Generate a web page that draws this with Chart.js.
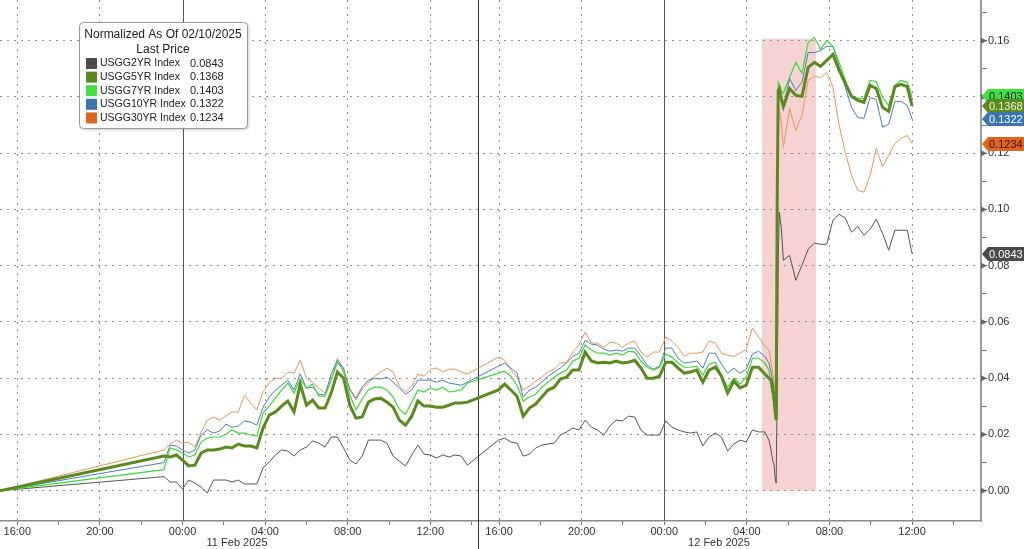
<!DOCTYPE html>
<html>
<head>
<meta charset="utf-8">
<title>US Treasury yields, normalized</title>
<script src="https://cdn.jsdelivr.net/npm/chart.js"></script>
<style>
  html, body { margin: 0; padding: 0; background: #fff; }
  #wrap { width: 1024px; height: 549px; position: relative; }
</style>
</head>
<body>
<div id="wrap"><canvas id="chart"></canvas></div>
<script>
// ---- data ----
// x = hours on the chart axis, 0 = 11 Feb 00:00; the ~40 min session break after 14:19 is squeezed out
const hours = [
  -8.84,
  -0.9, -0.6, -0.3, 0, 0.3, 0.6, 0.9, 1.2, 1.5, 1.8,
  2.1, 2.4, 2.7, 3.0, 3.3, 3.6, 3.9, 4.2, 4.5, 4.8,
  5.1, 5.4, 5.7, 6.0, 6.3, 6.6, 6.9, 7.2, 7.5, 7.8,
  8.1, 8.4, 8.7, 9.0, 9.3, 9.6, 9.9, 10.2, 10.5, 10.8,
  11.1, 11.4, 11.7, 12.0, 12.3, 12.6, 12.9, 13.2, 13.5, 13.8,
  14.1, 14.4, 14.7, 15.0,
  15.3, 15.6, 15.9, 16.2, 16.5, 16.8, 17.1, 17.4, 17.7, 18.0,
  18.3, 18.6, 18.9, 19.2, 19.5, 19.8, 20.1, 20.4, 20.7, 21.0,
  21.3, 21.6, 21.9, 22.2, 22.5, 22.8, 23.1, 23.4, 23.7, 24.0,
  24.3, 24.6, 24.9, 25.2, 25.5, 25.8, 26.1, 26.4, 26.7, 27.0,
  27.3, 27.6, 27.9, 28.2,
  28.4, 28.5, 28.6, 28.65, 28.7, 28.75, 28.8, 28.85, 28.9, 29.0,
  29.1, 29.4, 29.7, 30.0, 30.3, 30.6, 30.9, 31.2, 31.5, 31.8,
  32.1, 32.4, 32.7, 33.0, 33.3, 33.6, 33.9, 34.2, 34.5, 34.8,
  35.1, 35.33
];

const usgg2yr = [
  0,
  0.0050, 0.0031, 0.0031, 0.0006, 0.0038, 0.0027, 0.0013, -0.0008, 0.0038, 0.0038,
  0.0038, 0.0031, 0.0038, 0.0024, 0.0024, 0.0024, 0.0081, 0.0102, 0.0127, 0.0145,
  0.0141, 0.0123, 0.0145, 0.0155, 0.0177, 0.0169, 0.0155, 0.0191, 0.0191, 0.0152,
  0.0109, 0.0095, 0.0123, 0.0180, 0.0180, 0.0180, 0.0169, 0.0123, 0.0105, 0.0088,
  0.0127, 0.0162, 0.0130, 0.0127, 0.0116, 0.0127, 0.0120, 0.0127, 0.0123, 0.0091,
  null, null, null, null,
  0.0180, 0.0187, 0.0173, 0.0169, 0.0123, 0.0130, 0.0152, 0.0162, 0.0166, 0.0169,
  0.0198, 0.0209, 0.0223, 0.0216, 0.0251, 0.0226, 0.0216, 0.0198, 0.0230, 0.0251,
  0.0248, 0.0265, 0.0262, 0.0216, 0.0198, 0.0198, 0.0198, 0.0248, 0.0226, 0.0216,
  0.0209, 0.0205, 0.0209, 0.0159, 0.0191, 0.0205, 0.0191, 0.0141, 0.0166, 0.0180,
  0.0173, 0.0216, 0.0209, 0.0209,
  0.0180, 0.0145, 0.0102, 0.0091, 0.0045, 0.0027, 0.0368, 0.0819, 0.0990, 0.0933,
  0.0819, 0.0837, 0.0748, 0.0802, 0.0859, 0.0880, 0.0876, 0.0876, 0.0962, 0.0983,
  0.0969, 0.0919, 0.0940, 0.0908, 0.0930, 0.0965, 0.0915, 0.0855, 0.0926, 0.0926,
  0.0926, 0.0843
];

const usgg5yr = [
  0,
  0.0123, 0.0120, 0.0127, 0.0109, 0.0088, 0.0091, 0.0134, 0.0145, 0.0145, 0.0148,
  0.0155, 0.0152, 0.0166, 0.0159, 0.0159, 0.0152, 0.0223, 0.0269, 0.0280, 0.0301,
  0.0319, 0.0280, 0.0379, 0.0304, 0.0322, 0.0294, 0.0294, 0.0347, 0.0422, 0.0400,
  0.0304, 0.0258, 0.0262, 0.0315, 0.0326, 0.0329, 0.0315, 0.0297, 0.0251, 0.0233,
  0.0265, 0.0319, 0.0301, 0.0301, 0.0297, 0.0297, 0.0304, 0.0312, 0.0312, 0.0315,
  null, null, null, null,
  0.0358, 0.0379, 0.0358, 0.0336, 0.0265, 0.0294, 0.0308, 0.0333, 0.0358, 0.0368,
  0.0397, 0.0404, 0.0429, 0.0429, 0.0493, 0.0461, 0.0454, 0.0457, 0.0454, 0.0461,
  0.0454, 0.0457, 0.0464, 0.0436, 0.0400, 0.0400, 0.0407, 0.0457, 0.0457, 0.0436,
  0.0418, 0.0422, 0.0429, 0.0386, 0.0429, 0.0439, 0.0407, 0.0347, 0.0390, 0.0365,
  0.0375, 0.0439, 0.0439, 0.0415,
  0.0400, 0.0393, 0.0351, 0.0322, 0.0280, 0.0251, 0.1033, 0.1423, 0.1430, 0.1395,
  0.1366, 0.1430, 0.1406, 0.1402, 0.1505, 0.1523, 0.1509, 0.1530, 0.1551, 0.1494,
  0.1448, 0.1402, 0.1388, 0.1381, 0.1441, 0.1430, 0.1363, 0.1349, 0.1437, 0.1445,
  0.1437, 0.1368
];

const usgg7yr = [
  0,
  0.0075, 0.0152, 0.0145, 0.0134, 0.0120, 0.0127, 0.0173, 0.0187, 0.0191, 0.0191,
  0.0201, 0.0216, 0.0205, 0.0205, 0.0198, 0.0194, 0.0276, 0.0301, 0.0329, 0.0358,
  0.0383, 0.0347, 0.0397, 0.0365, 0.0379, 0.0336, 0.0336, 0.0393, 0.0457, 0.0429,
  0.0340, 0.0287, 0.0326, 0.0358, 0.0368, 0.0368, 0.0358, 0.0333, 0.0290, 0.0272,
  0.0315, 0.0358, 0.0351, 0.0365, 0.0358, 0.0368, 0.0351, 0.0354, 0.0358, 0.0383,
  null, null, null, null,
  0.0418, 0.0425, 0.0407, 0.0375, 0.0319, 0.0333, 0.0343, 0.0368, 0.0386, 0.0404,
  0.0418, 0.0429, 0.0461, 0.0471, 0.0518, 0.0500, 0.0489, 0.0489, 0.0482, 0.0489,
  0.0482, 0.0496, 0.0493, 0.0461, 0.0439, 0.0429, 0.0439, 0.0486, 0.0475, 0.0454,
  0.0439, 0.0439, 0.0443, 0.0411, 0.0450, 0.0457, 0.0411, 0.0368, 0.0400, 0.0379,
  0.0404, 0.0471, 0.0471, 0.0454,
  0.0429, 0.0375, 0.0329, 0.0304, 0.0276, 0.0258, 0.1033, 0.1452, 0.1445, 0.1423,
  0.1413, 0.1469, 0.1523, 0.1484, 0.1594, 0.1612, 0.1569, 0.1601, 0.1580, 0.1523,
  0.1459, 0.1402, 0.1395, 0.1395, 0.1459, 0.1455, 0.1398, 0.1370, 0.1441, 0.1459,
  0.1452, 0.1403
];

const usgg10yr = [
  0,
  0.0100, 0.0162, 0.0159, 0.0145, 0.0134, 0.0145, 0.0198, 0.0216, 0.0205, 0.0212,
  0.0237, 0.0226, 0.0230, 0.0248, 0.0244, 0.0233, 0.0297, 0.0333, 0.0358, 0.0375,
  0.0393, 0.0358, 0.0415, 0.0365, 0.0368, 0.0343, 0.0340, 0.0415, 0.0464, 0.0436,
  0.0358, 0.0329, 0.0368, 0.0393, 0.0400, 0.0397, 0.0404, 0.0386, 0.0365, 0.0343,
  0.0358, 0.0393, 0.0393, 0.0393, 0.0386, 0.0393, 0.0383, 0.0379, 0.0375, 0.0386,
  null, null, null, null,
  0.0443, 0.0454, 0.0436, 0.0418, 0.0333, 0.0358, 0.0368, 0.0386, 0.0407, 0.0422,
  0.0436, 0.0454, 0.0478, 0.0489, 0.0535, 0.0521, 0.0518, 0.0503, 0.0496, 0.0500,
  0.0496, 0.0507, 0.0507, 0.0478, 0.0446, 0.0432, 0.0443, 0.0507, 0.0507, 0.0471,
  0.0454, 0.0457, 0.0461, 0.0436, 0.0489, 0.0489, 0.0450, 0.0418, 0.0436, 0.0418,
  0.0432, 0.0486, 0.0496, 0.0478,
  0.0454, 0.0422, 0.0383, 0.0347, 0.0297, 0.0269, 0.1033, 0.1388, 0.1416, 0.1388,
  0.1363, 0.1466, 0.1423, 0.1452, 0.1558, 0.1558, 0.1565, 0.1580, 0.1580, 0.1509,
  0.1434, 0.1363, 0.1327, 0.1324, 0.1398, 0.1391, 0.1292, 0.1303, 0.1384, 0.1384,
  0.1370, 0.1322
];

const usgg30yr = [
  0,
  0.0145, 0.0166, 0.0180, 0.0169, 0.0173, 0.0155, 0.0209, 0.0251, 0.0262, 0.0251,
  0.0265, 0.0280, 0.0280, 0.0340, 0.0312, 0.0287, 0.0351, 0.0383, 0.0400, 0.0400,
  0.0422, 0.0418, 0.0464, 0.0400, 0.0386, 0.0365, 0.0347, 0.0393, 0.0471, 0.0418,
  0.0365, 0.0322, 0.0361, 0.0383, 0.0407, 0.0422, 0.0436, 0.0422, 0.0372, 0.0351,
  0.0372, 0.0415, 0.0407, 0.0432, 0.0436, 0.0422, 0.0432, 0.0432, 0.0422, 0.0415,
  null, null, null, null,
  0.0475, 0.0464, 0.0429, 0.0404, 0.0358, 0.0372, 0.0390, 0.0404, 0.0422, 0.0432,
  0.0454, 0.0457, 0.0493, 0.0518, 0.0564, 0.0525, 0.0525, 0.0510, 0.0528, 0.0525,
  0.0510, 0.0525, 0.0532, 0.0493, 0.0475, 0.0493, 0.0493, 0.0546, 0.0532, 0.0510,
  0.0478, 0.0489, 0.0489, 0.0493, 0.0532, 0.0525, 0.0489, 0.0482, 0.0478, 0.0489,
  0.0503, 0.0578, 0.0546, 0.0514,
  0.0500, 0.0457, 0.0411, 0.0383, 0.0347, 0.0304, 0.1033, 0.1377, 0.1352, 0.1303,
  0.1221, 0.1359, 0.1281, 0.1334, 0.1459, 0.1473, 0.1469, 0.1487, 0.1434, 0.1299,
  0.1203, 0.1121, 0.1068, 0.1061, 0.1121, 0.1217, 0.1153, 0.1192, 0.1235, 0.1253,
  0.1263, 0.1234
];

const seriesNames = ["USGG2YR Index", "USGG5YR Index", "USGG7YR Index", "USGG10YR Index", "USGG30YR Index"];
const lastPrices  = [0.0843, 0.1368, 0.1403, 0.1322, 0.1234];

// axis ticks / labels
const timeTicks   = [-8, -4, 0, 4, 8, 12, 15.33, 19.33, 23.33, 27.33, 31.33, 35.33];
const timeLabels  = ["16:00", "20:00", "00:00", "04:00", "08:00", "12:00", "16:00", "20:00", "00:00", "04:00", "08:00", "12:00"];
const minorTicks  = [-6, -2, 2, 6, 10, 14, 17.33, 21.33, 25.33, 29.33, 33.33, 37.33];
const midnights   = [0, 23.33];
const sessionBreak = 14.32;
const dateLabels  = ["11 Feb 2025", "12 Feb 2025"];
const datePos     = [2.64, 25.98];
const yTicks      = [0, 0.01, 0.02, 0.03, 0.04, 0.05, 0.06, 0.07, 0.08, 0.09, 0.10, 0.11, 0.12, 0.13, 0.14, 0.15, 0.16, 0.17];
const shadeRange  = [28.06, 30.68];   // highlighted window (hours)
const shadeTop    = 0.1607;

// ---- styles ----
const FONT = '"Liberation Sans", Arial, sans-serif';
const lineColors  = ["#555555", "#5b8a1c", "#39dc39", "#4a80b8", "#e8955a"];
const lineWidths  = [1, 3, 1.2, 1, 1];
const drawOrder   = [4, 0, 1, 2, 3];
const keyColors   = ["#4b4b4b", "#5b8a1c", "#3fe23f", "#3a75b0", "#e0661e"];
const tagText     = ["#ffffff", "#f4f4e6", "#1a1a1a", "#ffffff", "#4a1000"];
const tagOrder    = [2, 1, 3, 4, 0];

const allSeries = [usgg2yr, usgg5yr, usgg7yr, usgg10yr, usgg30yr];
const near = (a, b) => Math.abs(a - b) < 0.01;
const isMajorY = v => Math.round(v * 100) % 2 === 0;

// ---- decorations the library has no option for ----
const decor = {
  id: "decor",
  beforeDraw(chart) {
    const { ctx, scales: { x, y } } = chart;
    const x0 = x.getPixelForValue(shadeRange[0]);
    const x1 = x.getPixelForValue(shadeRange[1]);
    const y0 = y.getPixelForValue(shadeTop);
    const y1 = y.getPixelForValue(0);
    ctx.save();
    ctx.fillStyle = "#f6d2d2";
    ctx.fillRect(x0, y0, x1 - x0, y1 - y0);
    ctx.restore();
  },
  beforeDatasetsDraw(chart) {
    const { ctx, chartArea, scales: { x } } = chart;
    ctx.save();
    ctx.strokeStyle = "#5a5a5a";
    ctx.lineWidth = 1;
    midnights.forEach(h => {
      const px = Math.round(x.getPixelForValue(h)) + 0.5;
      ctx.beginPath();
      ctx.moveTo(px, chartArea.top);
      ctx.lineTo(px, chartArea.bottom);
      ctx.stroke();
    });
    const pb = Math.round(x.getPixelForValue(sessionBreak)) + 0.5;
    ctx.strokeStyle = "#333";
    ctx.beginPath();
    ctx.moveTo(pb, chartArea.top);
    ctx.lineTo(pb, chart.height);
    ctx.stroke();
    ctx.restore();
  },
  afterDraw(chart) {
    const { ctx, scales: { x, y } } = chart;
    ctx.save();

    // arrow heads on the major y ticks
    ctx.fillStyle = "#666";
    yTicks.filter(isMajorY).forEach(v => {
      const py = y.getPixelForValue(v);
      ctx.beginPath();
      ctx.moveTo(y.left, py - 3);
      ctx.lineTo(y.left + 6, py);
      ctx.lineTo(y.left, py + 3);
      ctx.closePath();
      ctx.fill();
    });

    // dates under the time labels
    ctx.font = "11px " + FONT;
    ctx.fillStyle = "#333";
    ctx.textAlign = "center";
    ctx.textBaseline = "middle";
    dateLabels.forEach((t, i) => ctx.fillText(t, x.getPixelForValue(datePos[i]), 543));

    // last-price tags on the right axis
    ctx.textAlign = "left";
    tagOrder.forEach(i => {
      const py = Math.round(y.getPixelForValue(lastPrices[i]));
      const h = 14, tip = y.left + 1, body = y.left + 7, right = chart.width;
      ctx.fillStyle = keyColors[i];
      ctx.beginPath();
      ctx.moveTo(tip, py);
      ctx.lineTo(body, py - h / 2);
      ctx.lineTo(right, py - h / 2);
      ctx.lineTo(right, py + h / 2);
      ctx.lineTo(body, py + h / 2);
      ctx.closePath();
      ctx.fill();
      ctx.fillStyle = tagText[i];
      ctx.fillText(lastPrices[i].toFixed(4), body + 1, py + 0.5);
    });

    // legend box
    const bx = 79, by = 22, bw = 168, bh = 106;
    ctx.shadowColor = "rgba(0,0,0,0.25)";
    ctx.shadowBlur = 3;
    ctx.shadowOffsetX = 1;
    ctx.shadowOffsetY = 1;
    ctx.fillStyle = "#fff";
    ctx.beginPath();
    ctx.roundRect(bx + 0.5, by + 0.5, bw, bh, 4);
    ctx.fill();
    ctx.shadowColor = "transparent";
    ctx.strokeStyle = "#9a9a9a";
    ctx.lineWidth = 1;
    ctx.stroke();

    ctx.fillStyle = "#222";
    ctx.textAlign = "center";
    ctx.font = "12px " + FONT;
    ctx.fillText("Normalized As Of 02/10/2025", bx + bw / 2, 35);
    ctx.fillText("Last Price", bx + bw / 2, 49.5);
    ctx.textAlign = "left";
    seriesNames.forEach((name, i) => {
      const ry = 63.5 + i * 13.6;
      ctx.fillStyle = keyColors[i];
      ctx.fillRect(86, ry - 5.5, 11, 11);
      ctx.fillStyle = "#222";
      ctx.font = "10.5px " + FONT;
      ctx.fillText(name, 100, ry);
      ctx.font = "11px " + FONT;
      ctx.fillText(lastPrices[i].toFixed(4), 190, ry);
    });
    ctx.restore();
  }
};

// ---- chart ----
const datasets = allSeries.map((vals, i) => ({
  label: seriesNames[i],
  data: hours.map((h, k) => ({ x: h, y: vals[k] })),
  borderColor: lineColors[i],
  borderWidth: lineWidths[i],
  pointRadius: 0,
  tension: 0,
  spanGaps: true,
  order: drawOrder[i]
}));

const xTickValues = [...timeTicks, ...minorTicks].sort((a, b) => a - b);

new Chart(document.getElementById("chart"), {
  type: "line",
  data: { datasets },
  options: {
    responsive: true,
    maintainAspectRatio: false,
    animation: false,
    layout: { padding: 0 },
    plugins: { legend: { display: false }, tooltip: { enabled: false } },
    scales: {
      x: {
        type: "linear",
        position: "bottom",
        min: -8.84,
        max: 38.67,
        afterBuildTicks: s => { s.ticks = xTickValues.map(v => ({ value: v })); },
        afterFit: s => { s.height = 28; s.paddingLeft = 0; s.paddingRight = 0; },
        ticks: {
          autoSkip: false,
          maxRotation: 0,
          padding: 0,
          color: "#333",
          font: { family: FONT, size: 11 },
          callback: v => {
            const i = timeTicks.findIndex(t => near(t, v));
            return i >= 0 ? timeLabels[i] : "";
          }
        },
        grid: {
          color: c => {
            const v = c.tick && c.tick.value;
            if (v === undefined) return "rgba(0,0,0,0)";
            const major = timeTicks.some(t => near(t, v));
            const midnight = midnights.some(t => near(t, v));
            return major && !midnight ? "#8f8f8f" : "rgba(0,0,0,0)";
          },
          lineWidth: 1,
          tickLength: 4,
          tickColor: "#777",
          tickBorderDash: []
        },
        border: { display: true, color: "#8a8a8a", width: 1.5, dash: [2, 5] }
      },
      y: {
        type: "linear",
        position: "right",
        min: -0.01077,
        max: 0.17447,
        afterBuildTicks: s => { s.ticks = yTicks.map(v => ({ value: v })); },
        afterFit: s => { s.width = 43; s.paddingTop = 0; s.paddingBottom = 0; },
        ticks: {
          padding: 1,
          color: "#333",
          font: { family: FONT, size: 11 },
          callback: v => (isMajorY(v) ? v.toFixed(2) : "")
        },
        grid: {
          color: c => (c.tick && isMajorY(c.tick.value) ? "#8f8f8f" : "rgba(0,0,0,0)"),
          lineWidth: 1,
          tickLength: 6,
          tickColor: "#777",
          tickBorderDash: []
        },
        border: { display: true, color: "#9a9a9a", width: 2, dash: [2, 5] }
      }
    }
  },
  plugins: [decor]
});
</script>
</body>
</html>
